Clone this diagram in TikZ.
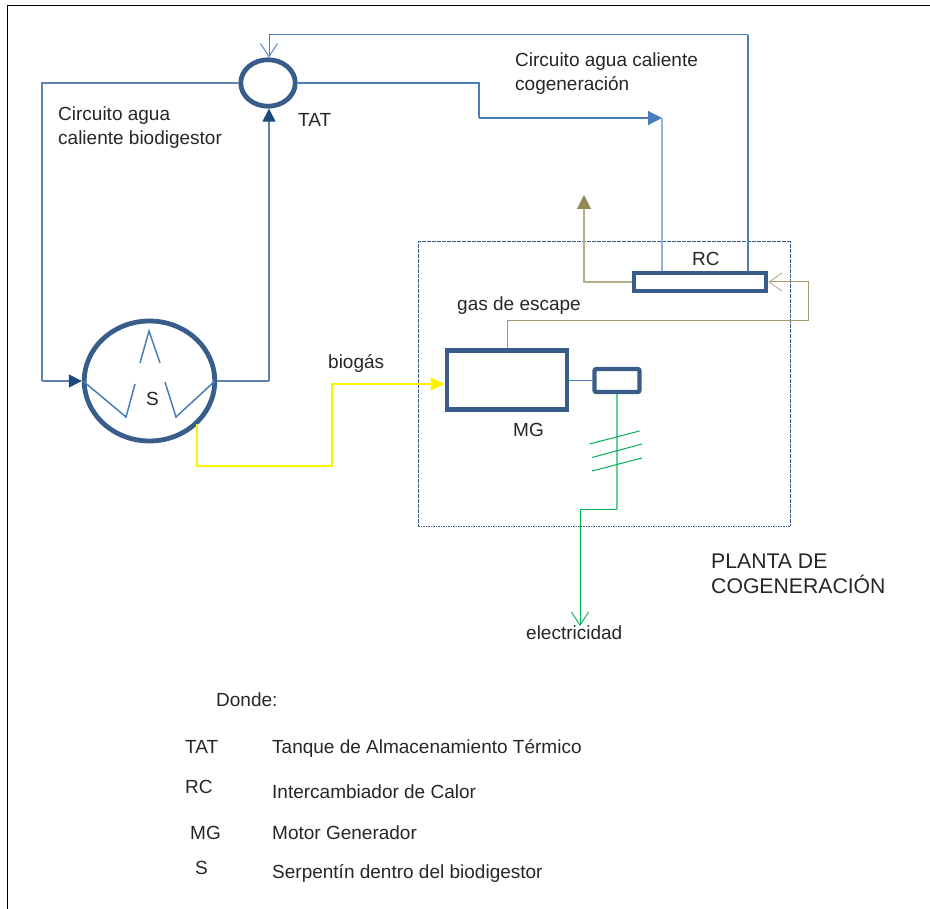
\documentclass[tikz,border=0pt]{standalone}
\usepackage{fontspec}
\setmainfont{Liberation Sans}
\usetikzlibrary{arrows.meta,shapes.geometric}
\definecolor{nodeblue}{HTML}{385D8A}
\definecolor{pipeblue}{HTML}{4A7EBB}
\definecolor{darktip}{HTML}{1F497D}
\definecolor{lightblue}{HTML}{8DB3E2}
\definecolor{thinblue}{HTML}{5F82AE}
\definecolor{tan}{HTML}{B7AE86}
\definecolor{olive}{HTML}{938953}
\definecolor{wiregreen}{HTML}{00B050}
\definecolor{lightgreen}{HTML}{66CF96}
\tikzset{
  x=1pt,y=-1pt,
  equip/.style={draw=nodeblue,line width=4.4pt,fill=white,inner sep=0pt},
  lab/.style={inner sep=0pt,anchor=base west,yshift=-1pt,font=\fontsize{19}{24}\selectfont,text=black!85,align=left},
  bigl/.style={inner sep=0pt,anchor=base west,font=\fontsize{21.2}{25}\selectfont,text=black!85,align=left},
  pipe/.style={draw=thinblue,line width=1.1pt},
  coil/.style={draw=pipeblue,line width=1.5pt},
  gas/.style={draw=tan,line width=1.2pt},
  darkhead/.style={-{Triangle[length=13pt,width=13pt,color=darktip]}},
  openhead/.style={-{Straight Barb[length=13pt,width=17pt,line width=0.9pt]}}
}
\begin{document}
\begin{tikzpicture}
\useasboundingbox (0,0) rectangle (930,909);
% page frame (top and left)
\coordinate (fa) at (7.5,909);
\coordinate (fb) at (7.5,5.5);
\coordinate (fc) at (930,5.5);
\draw[black,line width=1.1pt] (fa) -- (fb) -- (fc);
% plant boundary
\node[draw=nodeblue,dash pattern=on 1.6pt off 0.9pt,line width=1pt,minimum width=372pt,minimum height=284pt,inner sep=0pt] (plant) at (604,384) {};
% named way-points
\coordinate (p1) at (42,83);
\coordinate (p2) at (42,381);
\coordinate (p3) at (269,381);
\coordinate (p4) at (479,83);
\coordinate (p5) at (479,118);
\coordinate (p6) at (662,118);
\coordinate (rcin) at (662,271);
\coordinate (rcout) at (748,271);
\coordinate (p7) at (748,35);
\coordinate (p8) at (269,35);
\coordinate (exhaust) at (584,195);
\coordinate (p9) at (584,282);
\coordinate (p10) at (507,321);
\coordinate (p11) at (808,321);
\coordinate (p12) at (808,282);
\coordinate (ya) at (197,424);
\coordinate (yb) at (197,466);
\coordinate (yc) at (332,466);
\coordinate (yd) at (332,384);
\coordinate (gb) at (617,509);
\coordinate (gc) at (580,509);
\coordinate (elec) at (580,626);
% equipment
\node[equip,ellipse,line width=4.8pt,minimum width=54.5pt,minimum height=46.5pt] (tat) at (268,83) {};
\node[equip,ellipse,line width=4.8pt,minimum width=130.5pt,minimum height=120pt] (s) at (149.5,381) {};
\node[equip,minimum width=132pt,minimum height=18pt] (rc) at (700,282) {};
\node[equip,line width=4.8pt,minimum width=120pt,minimum height=58.5pt] (mg) at (507,380) {};
\node[equip,rounded corners=2pt,minimum width=45pt,minimum height=23pt] (gen) at (617,380.5) {};
% hot water biodigester circuit
\draw[pipe] (tat.west) -- (p1) -- (p2);
\draw[pipe,darkhead] (p2) -- (s.west);
\draw[pipe] (s.east) -- (p3);
\draw[pipe,darkhead] (p3) -- (p3 |- tat.south);
% cogeneration circuit
\draw[pipe,draw=pipeblue] (tat.east) -- (p4) -- (p5);
\draw[draw=pipeblue,line width=1.2pt,-{Triangle[length=14pt,width=14pt,color=pipeblue]}] (p5) -- (p6);
\draw[draw=lightblue,line width=1.3pt] (p6) -- (rcin);
\draw[draw=pipeblue,line width=2.2pt] (rcout) -- (p7);
\draw[draw=pipeblue,line width=1pt,openhead] (p7) -- (p8) -- (p8 |- tat.north);
% exhaust gas
\draw[gas,-{Triangle[length=14pt,width=14pt,color=olive]}] (rc.west) -- (p9) -- (exhaust);
\draw[draw=olive!85,line width=1pt,-{Straight Barb[length=13pt,width=18pt,line width=0.9pt,color=tan]}] (p10 |- mg.north) -- (p10) -- (p11) -- (p12) -- (rc.east);
% biogas
\draw[yellow,line width=1.1pt,-{Triangle[length=14pt,width=13pt,color=yellow]}] (ya) -- (yb) -- (yc) -- (yd) -- (mg.west |- yd);
% coil inside the digester
\coordinate (c1) at (83,381);
\coordinate (c2) at (126,417);
\coordinate (c3) at (135,384);
\coordinate (c4) at (140,363);
\coordinate (c5) at (149,331);
\coordinate (c6) at (160,363);
\coordinate (c7) at (165,382);
\coordinate (c8) at (176,417);
\coordinate (c9) at (215,381);
\draw[coil] (c1) -- (c2) -- (c3);
\draw[coil] (c4) -- (c5) -- (c6);
\draw[coil] (c7) -- (c8) -- (c9);
% shaft
\draw[draw=pipeblue,line width=1.6pt] (mg.east |- gen.west) -- (gen.west);
% electric line
\draw[draw=lightgreen,line width=1.5pt] (gen.south) -- (gb);
\draw[draw=wiregreen,line width=1pt,openhead] (gb) -- (gc) -- (elec);
\coordinate (h1a) at (589.5,444);
\coordinate (h1b) at (639.5,431);
\coordinate (h2a) at (592,457.5);
\coordinate (h2b) at (642,444);
\coordinate (h3a) at (592,471);
\coordinate (h3b) at (642,458);
\draw[wiregreen,line width=1pt] (h1a) -- (h1b);
\draw[wiregreen,line width=1pt] (h2a) -- (h2b);
\draw[wiregreen,line width=1pt] (h3a) -- (h3b);
% labels
\node[lab] (t1) at (58,144) {Circuito agua\\caliente biodigestor};
\node[lab] (t2) at (298,126) {TAT};
\node[lab] (t3) at (515,90) {Circuito agua caliente\\cogeneración};
\node[lab] (t4) at (692,265) {RC};
\node[lab] (t5) at (457,310) {gas de escape};
\node[lab] (t6) at (328,368) {biogás};
\node[lab] (t7) at (146,405) {S};
\node[lab] (t8) at (513,436) {MG};
\node[bigl] (t9) at (711,593) {PLANTA DE\\COGENERACIÓN};
\node[lab] (t10) at (526,638) {electricidad};
\node[lab] (t11) at (216,705) {Donde:};
\node[lab] (t12) at (185,752) {TAT};
\node[lab] (t13) at (272,752) {Tanque de Almacenamiento Térmico};
\node[lab] (t14) at (185,792) {RC};
\node[lab] (t15) at (272,797) {Intercambiador de Calor};
\node[lab] (t16) at (190,838) {MG};
\node[lab] (t17) at (272,838) {Motor Generador};
\node[lab] (t18) at (195,873) {S};
\node[lab] (t19) at (272,877) {Serpentín dentro del biodigestor};
\end{tikzpicture}
\end{document}
